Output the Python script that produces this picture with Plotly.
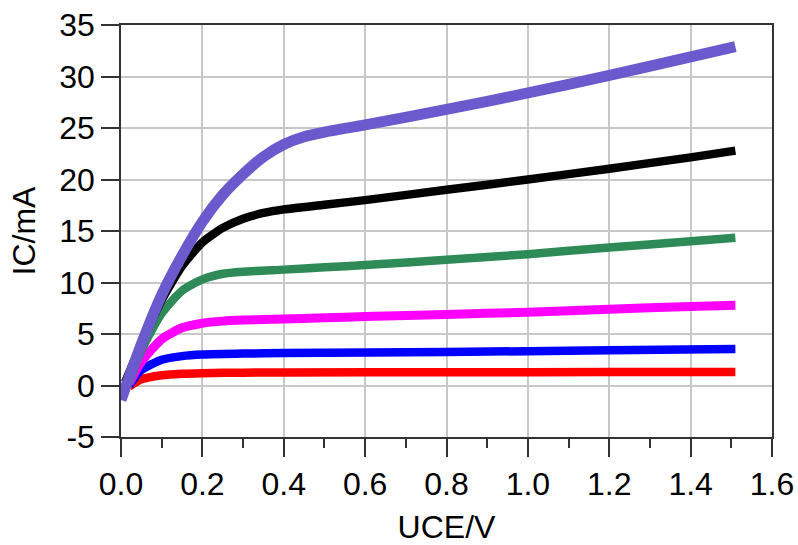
import plotly.graph_objects as go

# UCE (V) sample points and IC (mA) for each curve
x_red = [0.02, 0.05, 0.1, 0.15, 0.2, 0.3, 0.4, 0.8, 1.2, 1.51]
y_red = [-0.1, 0.6, 1.0, 1.15, 1.2, 1.25, 1.27, 1.28, 1.3, 1.32]

x_blue = [0.02, 0.05, 0.1, 0.15, 0.2, 0.3, 0.4, 0.8, 1.2, 1.51]
y_blue = [0.0, 1.5, 2.5, 2.85, 3.0, 3.1, 3.15, 3.25, 3.42, 3.55]

x_mag = [0.02, 0.05, 0.1, 0.15, 0.2, 0.25, 0.3, 0.4, 0.5, 0.6, 0.8, 1.0, 1.2, 1.4, 1.51]
y_mag = [0.2, 2.3, 4.5, 5.6, 6.05, 6.25, 6.35, 6.45, 6.57, 6.7, 6.9, 7.12, 7.4, 7.68, 7.8]

x_green = [0.02, 0.05, 0.1, 0.15, 0.2, 0.25, 0.3, 0.4, 0.5, 0.6, 0.8, 1.0, 1.2, 1.4, 1.51]
y_green = [0.3, 3.4, 7.0, 9.2, 10.3, 10.85, 11.05, 11.25, 11.47, 11.7, 12.2, 12.75, 13.4, 14.0, 14.35]

x_black = [0.01, 0.05, 0.1, 0.15, 0.2, 0.25, 0.3, 0.35, 0.4, 0.5, 0.6, 0.8, 1.0, 1.2, 1.4, 1.51]
y_black = [0.3, 4.0, 8.3, 11.6, 13.9, 15.3, 16.2, 16.75, 17.1, 17.55, 18.0, 19.0, 20.0, 21.05, 22.15, 22.8]

x_purple = [0.0, 0.05, 0.1, 0.15, 0.2, 0.25, 0.3, 0.35, 0.4, 0.45, 0.5, 0.6, 0.8, 1.0, 1.2, 1.4, 1.51]
y_purple = [-1.4, 4.0, 8.8, 12.6, 15.9, 18.5, 20.5, 22.2, 23.4, 24.15, 24.6, 25.3, 26.8, 28.4, 30.1, 31.9, 32.9]

series = [
    (x_red, y_red, "#FF0000", 8.5),
    (x_blue, y_blue, "#0000FF", 8.5),
    (x_mag, y_mag, "#FF00FF", 9),
    (x_green, y_green, "#2E8B57", 8.5),
    (x_black, y_black, "#000000", 8.5),
    (x_purple, y_purple, "#6A5ACD", 11),
]

x_ticks = [0.0, 0.2, 0.4, 0.6, 0.8, 1.0, 1.2, 1.4, 1.6]
y_ticks = [-5, 0, 5, 10, 15, 20, 25, 30, 35]

fig = go.Figure()
for xs, ys, c, w in series:
    fig.add_trace(go.Scatter(x=xs, y=ys, mode="lines",
                             line=dict(color=c, width=w, shape="spline", smoothing=0.6),
                             showlegend=False, hoverinfo="skip"))

font = dict(family="Liberation Sans, Arial, sans-serif", size=32, color="#000000")
axis_common = dict(
    showline=True, linecolor="#333333", linewidth=1.5, mirror=True,
    showgrid=True, gridcolor="#C8C8C8", gridwidth=1.5,
    ticks="outside", ticklen=18, tickwidth=1.5, tickcolor="#333333",
    zeroline=False, tickfont=font, automargin=False,
)

fig.update_xaxes(range=[0, 1.6], tickvals=x_ticks, ticktext=[f"{v:.1f}" for v in x_ticks],
                 minor=dict(ticks="outside", ticklen=9, tickwidth=1.5, tickcolor="#333333",
                            dtick=0.1, tick0=0, showgrid=False),
                 title=dict(text="UCE/V", font=font), **axis_common)
fig.update_yaxes(range=[-5, 35], tickvals=y_ticks, ticktext=[str(v) for v in y_ticks],
                 title=dict(text="IC/mA", font=font, standoff=14), **axis_common)

fig.update_layout(width=798, height=545, margin=dict(l=121, r=26, t=25, b=108),
                  paper_bgcolor="white", plot_bgcolor="white", font=font)

fig.write_html("out.html")
